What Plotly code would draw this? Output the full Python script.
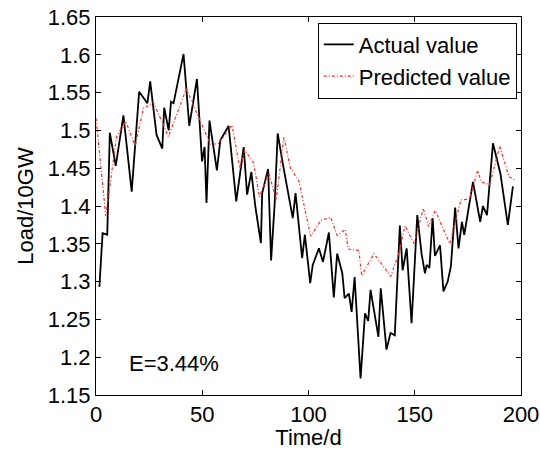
import plotly.graph_objects as go

# Actual load (black), vertices
actual_t = [1.6, 3.1, 5.3, 6.5, 9.3, 12.9, 16.8, 20.3, 24.2, 25.5, 28.5, 31.2, 32.1, 34.2, 35.3,
            36.5, 41.2, 43.9, 47.5, 49.9, 51.1, 52.0, 53.4, 56.9, 58.5, 62.4, 66.0, 67.9, 69.5,
            71.1, 73.1, 75.0, 77.6, 78.2, 81.0, 82.4, 84.1, 85.5, 87.9, 92.6, 93.9, 97.0, 98.3,
            100.8, 102.0, 104.9, 106.8, 109.6, 111.9, 113.5, 115.9, 117.0, 119.0, 120.3, 121.7,
            124.5, 126.6, 128.1, 129.2, 132.9, 134.0, 136.7, 138.6, 140.6, 143.0, 144.3, 146.2,
            148.5, 151.2, 153.2, 154.8, 155.6, 156.9, 158.4, 159.5, 161.9, 163.5, 165.5, 167.0,
            169.0, 170.6, 172.2, 173.3, 177.4, 180.8, 182.1, 184.0, 186.8, 190.3, 193.8, 196.2]
actual_v = [1.293, 1.364, 1.362, 1.497, 1.453, 1.520, 1.419, 1.551, 1.536, 1.565, 1.494, 1.476,
            1.530, 1.500, 1.538, 1.536, 1.601, 1.506, 1.568, 1.459, 1.478, 1.404, 1.513, 1.447,
            1.487, 1.506, 1.406, 1.448, 1.478, 1.415, 1.445, 1.399, 1.351, 1.417, 1.449, 1.328,
            1.404, 1.496, 1.456, 1.384, 1.417, 1.331, 1.362, 1.298, 1.322, 1.344, 1.326, 1.365,
            1.279, 1.337, 1.311, 1.278, 1.284, 1.260, 1.306, 1.172, 1.258, 1.248, 1.289, 1.227,
            1.291, 1.210, 1.232, 1.229, 1.374, 1.315, 1.344, 1.245, 1.388, 1.337, 1.311, 1.322,
            1.318, 1.384, 1.334, 1.348, 1.287, 1.300, 1.320, 1.398, 1.344, 1.379, 1.362, 1.432,
            1.379, 1.400, 1.388, 1.483, 1.443, 1.375, 1.426]

# Predicted load (red), vertices
pred_t = [0.0, 4.6, 9.7, 14.0, 18.4, 22.3, 27.0, 34.1, 42.5, 48.3, 51.0, 53.8, 57.4, 64.0, 67.7,
          70.0, 74.2, 76.9, 81.3, 84.8, 88.4, 91.5, 95.4, 101.0, 105.8, 110.4, 113.5, 117.3,
          118.7, 123.7, 125.0, 130.8, 138.7, 142.6, 145.4, 149.7, 154.0, 156.5, 159.6, 166.5,
          171.7, 175.8, 179.6, 181.3, 185.2, 190.0, 194.3, 197.4]
pred_v = [1.516, 1.387, 1.492, 1.512, 1.479, 1.529, 1.537, 1.492, 1.555, 1.518, 1.500, 1.482,
          1.482, 1.507, 1.450, 1.474, 1.457, 1.412, 1.444, 1.408, 1.491, 1.450, 1.434, 1.360,
          1.381, 1.385, 1.361, 1.369, 1.343, 1.341, 1.308, 1.337, 1.307, 1.338, 1.374, 1.350,
          1.397, 1.373, 1.394, 1.350, 1.408, 1.409, 1.447, 1.432, 1.428, 1.479, 1.439, 1.434]

x_ticks = [0, 50, 100, 150, 200]
y_ticks = [1.15, 1.2, 1.25, 1.3, 1.35, 1.4, 1.45, 1.5, 1.55, 1.6, 1.65]
y_tick_labels = ["1.15", "1.2", "1.25", "1.3", "1.35", "1.4", "1.45", "1.5", "1.55", "1.6", "1.65"]

FONT = "Liberation Sans, Arial, sans-serif"
FS = 22

fig = go.Figure()
fig.add_trace(go.Scatter(x=actual_t, y=actual_v, mode="lines", name="Actual value",
                         line=dict(color="black", width=1.8)))
fig.add_trace(go.Scatter(x=pred_t, y=pred_v, mode="lines", name="Predicted value",
                         line=dict(color="#ff2a2a", width=1.2, dash="3px,2px,1px,2px")))

axis_common = dict(showline=True, linecolor="black", linewidth=1, mirror="ticks",
                   ticks="inside", ticklen=5, tickcolor="black", showgrid=False,
                   zeroline=False, ticklabeloverflow="allow", automargin=False,
                   tickfont=dict(family=FONT, size=FS, color="black"))

fig.update_xaxes(range=[0, 200], tickvals=x_ticks, ticktext=[str(v) for v in x_ticks],
                 title=dict(text="Time/d", font=dict(family=FONT, size=FS, color="black"),
                            standoff=3),
                 **axis_common)
fig.update_yaxes(range=[1.15, 1.65], tickvals=y_ticks, ticktext=y_tick_labels,
                 title=dict(text="Load/10GW", font=dict(family=FONT, size=FS, color="black"),
                            standoff=8),
                 **axis_common)

fig.add_annotation(x=14.5, y=1.192, xref="x", yref="y", text="E=3.44%", showarrow=False,
                   xanchor="left", yanchor="middle",
                   font=dict(family=FONT, size=FS, color="black"))

fig.update_layout(
    width=540, height=450,
    margin=dict(l=96, r=19, t=17, b=55, autoexpand=False),
    paper_bgcolor="white", plot_bgcolor="white",
    font=dict(family=FONT, size=FS, color="black"),
    legend=dict(x=0.99, y=0.985, xanchor="right", yanchor="top",
                bgcolor="white", bordercolor="black", borderwidth=1,
                font=dict(family=FONT, size=FS, color="black"),
                tracegroupgap=0, itemwidth=30),
    showlegend=True,
)

fig.write_html("out.html")
